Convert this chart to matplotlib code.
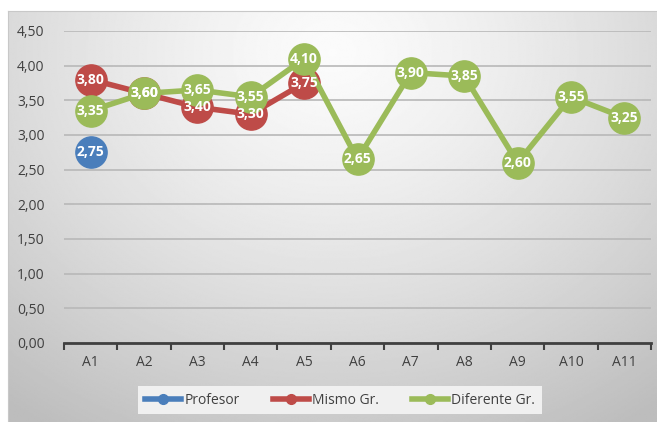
import numpy as np
import matplotlib.pyplot as plt
from matplotlib.lines import Line2D

categories = ["A1", "A2", "A3", "A4", "A5", "A6", "A7", "A8", "A9", "A10", "A11"]
profesor = [2.75]
mismo_gr = [3.80, 3.60, 3.40, 3.30, 3.75]
diferente_gr = [3.35, 3.60, 3.65, 3.55, 4.10, 2.65, 3.90, 3.85, 2.60, 3.55, 3.25]
yticks = [0.0, 0.5, 1.0, 1.5, 2.0, 2.5, 3.0, 3.5, 4.0, 4.5]

blue = "#4a7ebb"
red = "#be4b48"
green = "#9bbb59"

plt.rcParams['font.family'] = ['Open Sans', 'DejaVu Sans']

fig = plt.figure(figsize=(6.57, 4.22), dpi=100)

# shaded chart background with a soft radial gradient
bg = fig.add_axes([8 / 657, 0, 649 / 657, 411 / 422])
yy, xx = np.mgrid[0:1:300j, 0:1:460j]
r = np.sqrt(((xx - 0.5) / 0.75) ** 2 + ((yy - 0.1) / 1.0) ** 2)
shade = np.clip(0.985 - 0.22 * r ** 1.3, 0.74, 1.0)
bg.imshow(shade, cmap="gray", vmin=0, vmax=1, aspect="auto",
          extent=[0, 1, 1, 0], interpolation="bilinear")
bg.set_xticks([])
bg.set_yticks([])
for side in ["top", "left"]:
    bg.spines[side].set_color("#c8c8c8")
for side in ["right", "bottom"]:
    bg.spines[side].set_visible(False)

ax = fig.add_axes([64 / 657, 79 / 422, 587 / 657, 312 / 422])
ax.patch.set_alpha(0)
ax.set_xlim(-0.5, len(categories) - 0.5)
ax.set_ylim(0, 4.5)

ax.set_yticks(yticks)
ax.set_yticklabels([f"{v:.2f}".replace(".", ",") for v in yticks],
                   fontsize=10, color="#404040")
ax.yaxis.grid(True, color="#b8b8b8", linewidth=1.2)
ax.set_axisbelow(True)
ax.tick_params(axis="y", length=0, pad=14)

ax.set_xticks(np.arange(len(categories)))
ax.set_xticklabels(categories, fontsize=10, color="#404040")
ax.set_xticks(np.arange(len(categories) + 1) - 0.5, minor=True)
ax.tick_params(axis="x", which="major", length=0, pad=9)
ax.tick_params(axis="x", which="minor", length=5, width=1.5,
               color="#404040", direction="out")

for side in ["top", "right", "left"]:
    ax.spines[side].set_visible(False)
ax.spines["bottom"].set_color("#404040")
ax.spines["bottom"].set_linewidth(2)


def draw_series(values, color):
    x = np.arange(len(values))
    ax.plot(x, values, color=color, linewidth=4, marker="o",
            markersize=22.5, zorder=3, clip_on=False)
    for xi, v in zip(x, values):
        ax.text(xi, v, f"{v:.2f}".replace(".", ","), color="white",
                fontsize=10, fontweight="bold", ha="center", va="center",
                zorder=4)


draw_series(profesor, blue)
draw_series(mismo_gr, red)
draw_series(diferente_gr, green)

handles = [Line2D([0], [0], color=c, linewidth=4, marker="o", markersize=7)
           for c in (blue, red, green)]
leg = fig.legend(handles, ["Profesor", "Mismo Gr.", "Diferente Gr."],
                 loc="center", bbox_to_anchor=(340 / 657, 22 / 422),
                 ncol=3, fontsize=10, frameon=True, fancybox=False,
                 handlelength=2.6, handletextpad=0.2, columnspacing=2.4,
                 borderpad=0.5)
leg.get_frame().set_facecolor("#f0f0f0")
leg.get_frame().set_edgecolor("none")
leg.get_frame().set_alpha(1)
for t in leg.get_texts():
    t.set_color("#404040")

plt.savefig("out.png", dpi=100)
